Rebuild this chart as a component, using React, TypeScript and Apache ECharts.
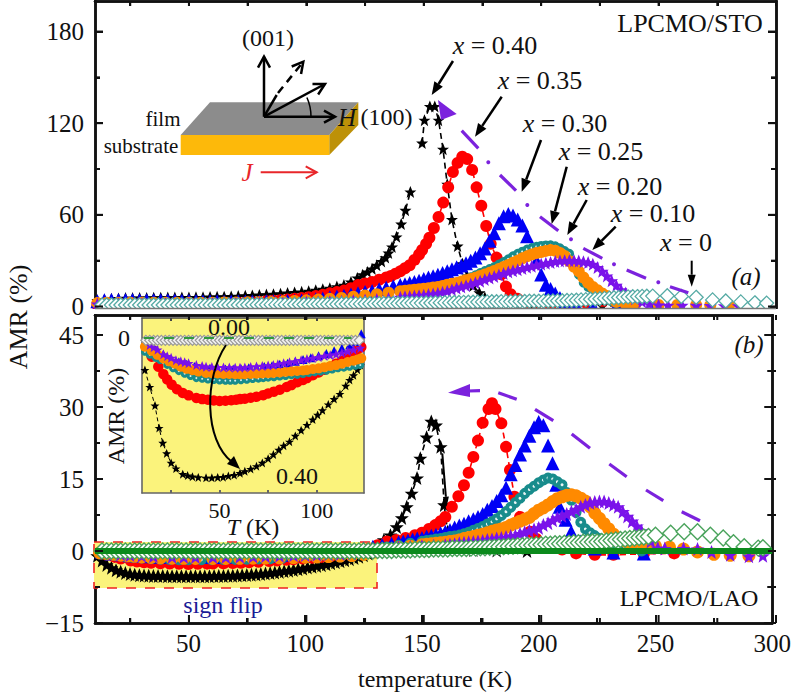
import React, { useEffect, useRef } from "react";
import * as echarts from "echarts";

type P = [number, number | null];

const xMajor = [50, 100, 150, 200, 250, 300];
const xMinor = [25, 75, 125, 175, 225, 275];
const aLabels = [0, 60, 120, 180];
const aMajor = [0, 60, 120, 180];
const aMinor = [30, 90, 150];
const bLabels = [-15, 0, 15, 30, 45];
const bMajor = [-15, 0, 15, 30, 45];
const bMinor = [-7.5, 7.5, 22.5, 37.5];
const insetLabelsX = [50, 100];
const insetTicksX = [25, 50, 75, 100];

// Panel (a) LPCMO/STO
const aX40: P[] = [[11,4],[14,4.6],[17,5],[20,5.2],[23,5.5],[26,5.5],[29,5.6],[32,5.6],[35,5.7],[38,5.7],[41,5.8],[44,5.8],[47,5.9],[50,5.9],[53,6],[56,6],[59,6.2],[62,6.3],[65,6.4],[68,6.6],[71,6.8],[74,7],[77,7.2],[80,7.5],[83,7.8],[86,8],[89,8.4],[92,8.8],[95,9.2],[98,9.6],[101,10],[104,10.6],[107,11.3],[110,12],[113,13],[116,14],[119,16],[121.7,18.7],[124,20.8],[126,22.6],[128,24.6],[130,27],[132,29.5],[133.7,32],[135,35],[136.5,39],[138.4,45.6],[140.4,54],[142.2,63],[144.3,75],[146,null],[149.3,107],[150.3,122],[152.6,131],[154.7,131],[156.3,122],[158.2,103],[160,80],[162,57],[164.4,39.6],[166.5,28],[168.5,20],[171,13.5],[173.7,9],[176,6],[179,4],[182,3],[186,2],[190,1.5],[196,1],[204,0.8],[214,0.6],[226,0.5],[240,0.4]];
const aX35: P[] = [[11,1],[14,1.2],[17,1.3],[20,1.4],[23,1.4],[26,1.5],[29,1.5],[32,1.6],[35,1.6],[38,1.7],[41,1.7],[44,1.8],[47,1.8],[50,1.8],[53,1.9],[56,1.9],[59,2],[62,2.1],[65,2.2],[68,2.3],[71,2.4],[74,2.6],[77,2.8],[80,3],[83,3.4],[86,3.8],[89,4.1],[92,4.5],[95,5],[98,5.5],[101,6],[104,6.8],[107,7.6],[110,8.6],[113,9.4],[116,10.4],[119,12],[122,14],[125,15],[128,16],[131,17.5],[134,19],[136,20],[138,21.5],[140,23],[142,25],[144,27],[146,30.5],[148,34],[149.3,37],[151,41],[152.4,45],[154.3,51.4],[156.3,58.6],[158.3,68],[160.4,78],[162.4,88],[164.4,94],[166.4,98],[168.5,96.5],[170.6,89.4],[172.5,78],[174.5,66],[176.6,52.7],[178.5,41],[181,32],[183,21],[185,13],[187,8],[190,5],[194,3],[198,2],[204,1],[210,0.6],[220,0.4],[235,0.3]];
const aX30: P[] = [[11,3.5],[14,4],[17,4.2],[20,4.2],[23,4.2],[26,4.2],[29,4.1],[32,4.1],[35,4],[38,4],[41,4],[44,3.9],[47,3.8],[50,3.7],[53,3.6],[56,3.5],[59,3.4],[62,3.4],[65,3.3],[68,3.3],[71,3.3],[74,3.3],[77,3.3],[80,3.3],[83,3.4],[86,3.4],[89,3.5],[92,3.6],[95,3.7],[98,3.9],[101,4.2],[104,4.7],[107,5.3],[110,6],[113,6.5],[116,7.1],[119,7.8],[122,8.6],[125,9.4],[128,10.2],[131,11.2],[134,12.2],[137,13.2],[140,14],[142,14.6],[144,15.3],[146,16],[148,16.9],[150,18],[152,18.9],[154,19.8],[156,20.8],[158,21.9],[160,23],[162,24.4],[164,25.6],[166,26.9],[168,28.3],[170,30],[172,32],[174,34.8],[176,38],[178,43],[180,48],[182,54.5],[184,59],[186,60.6],[188,59.5],[190,57],[192,53],[194,46],[196,37],[198,30],[200,21],[202,14.2],[204,11.5],[206,8.5],[208,5.6],[210,3],[215,1],[222,0.6],[232,0.4],[248,0.3]];
const aX25: P[] = [[11,2.4],[14,2.5],[17,2.6],[20,2.6],[25,2.6],[30,2.6],[35,2.6],[40,2.6],[45,2.6],[50,2.6],[55,2.6],[60,2.6],[65,2.7],[70,2.7],[75,2.8],[80,2.8],[85,2.9],[90,3.1],[95,3.3],[100,3.6],[105,4],[110,4.5],[115,5.1],[120,5.8],[125,6.5],[130,7.2],[135,8],[140,9],[142,9.4],[144,9.8],[146,10.2],[148,10.6],[150,11],[152,11.6],[154,12.3],[156,13],[158,13.6],[160,14.2],[162,15],[164,15.7],[166,16.6],[168,17.8],[170,19.2],[172,20.6],[174,22],[176,23.3],[178,24.6],[180,26],[182,27.6],[184,29.2],[186,31],[188,33],[190,34.6],[192,36],[194,37.4],[196,38.4],[198,39.2],[200,39.8],[202,40.1],[204,40.2],[206,39.6],[208,38.2],[210,36.4],[212,34.6],[214,27],[216,20.6],[218,15.5],[220,12.6],[222,10.4],[224,8.6],[226,6.8],[228,5],[230,3.2],[232,2],[236,1.2],[240,0.8],[250,0.4]];
const aX20: P[] = [[11,2.2],[15,2.4],[20,2.4],[25,2.4],[30,2.4],[35,2.4],[40,2.4],[45,2.4],[50,2.4],[55,2.4],[60,2.5],[65,2.6],[70,2.6],[75,2.7],[80,2.8],[85,3],[90,3.2],[95,3.6],[100,4],[105,4.5],[110,5],[115,5.6],[120,6.4],[125,7.2],[130,8],[135,9],[140,10],[142,10.3],[144,10.6],[146,11],[148,11.3],[150,11.6],[152,12],[154,12.5],[156,12.8],[158,13.4],[160,14.2],[162,14.8],[164,15.4],[166,16.3],[168,17.2],[170,18],[172,18.8],[174,20],[176,21],[178,22],[180,23.2],[182,24.5],[184,25.8],[186,27.2],[188,28.6],[190,30],[192,31.6],[194,32.8],[196,34],[198,35],[200,35.7],[202,36.4],[204,36.9],[206,36.5],[208,35],[210,33],[212,29.6],[214,26],[216,23],[218,19],[220,15.5],[222,12.8],[224,10.6],[226,8.5],[228,6.8],[230,5],[232,3],[236,1.6],[240,1],[250,1],[258,1],[266,1],[272,0.8],[280,0.6]];
const aX10: P[] = [[11,1.6],[15,1.8],[20,1.8],[25,1.8],[30,1.8],[35,1.8],[40,1.8],[45,1.8],[50,1.9],[55,1.9],[60,1.9],[65,2],[70,2],[75,2.1],[80,2.1],[85,2.2],[90,2.3],[95,2.5],[100,2.7],[105,2.9],[110,3.1],[115,3.4],[120,3.8],[125,4.2],[130,4.6],[135,5.2],[140,6],[142,6.3],[144,6.5],[146,6.8],[148,7.1],[150,7.4],[152,7.8],[154,8.2],[156,8.6],[158,9.3],[160,10],[162,11],[164,12],[166,12.8],[168,13.6],[170,14.6],[172,15.5],[174,16.5],[176,17.6],[178,18.6],[180,19.6],[182,20.6],[184,21.6],[186,22.6],[188,23.4],[190,24],[192,24.8],[194,25.6],[196,26.3],[198,27],[200,27.7],[202,28.3],[204,28.8],[206,29.4],[208,29.8],[210,30],[212,30],[214,30],[216,29.7],[218,29.2],[220,28.8],[222,27.6],[224,25.5],[226,23],[228,20],[230,16.8],[232,13.8],[234,11],[236,8.8],[238,6.6],[240,5],[243,3],[246,1.6],[250,1],[254,0.8],[260,0.7],[266,0.7],[272,0.6],[278,0.5],[284,0.4]];
const aX0: P[] = [[13,1],[15,1],[17,1],[19,1],[21,1],[23,1],[25,1],[27,1],[29,1],[31,1],[33,1],[35,1],[37,1],[39,1],[41,1],[43,1],[45,1],[47,1],[49,1],[51,1],[53,1],[55,1],[57,1],[59,1],[61,1],[63,1],[65,1],[67,1],[69,1],[71,1],[73,1],[75,1.1],[77,1.1],[79,1.1],[81,1.1],[83,1.1],[85,1.2],[87,1.2],[89,1.2],[91,1.2],[93,1.2],[95,1.3],[97,1.3],[99,1.3],[101,1.3],[103,1.4],[105,1.4],[107,1.4],[109,1.5],[111,1.5],[113,1.5],[115,1.6],[117,1.6],[119,1.6],[121,1.7],[123,1.7],[125,1.8],[127,1.8],[129,1.8],[131,1.9],[133,1.9],[135,2],[137,2],[139,2],[141,2.1],[143,2.1],[145,2.2],[147,2.2],[149,2.2],[151,2.3],[153,2.3],[155,2.4],[157,2.4],[159,2.5],[161,2.5],[163,2.6],[165,2.6],[167,2.7],[169,2.8],[171,2.8],[173,2.9],[175,3],[177,3],[179,3.1],[181,3.1],[183,3.2],[185,3.2],[187,3.2],[189,3.3],[191,3.3],[193,3.3],[195,3.4],[197,3.4],[199,3.4],[201,3.5],[203,3.6],[205,3.6],[207,3.7],[209,3.8],[211,3.9],[213,4],[215,4.1],[217,4.3],[219,4.5],[221,4.7],[223,4.9],[225,5.1],[227,5.3],[229,5.5],[231,5.7],[233,5.9],[235,6.1],[237,6.3],[239,6.4],[241,6.5],[243,6.6],[245,6.7],[247.5,6.8],[253.7,7],[259.7,6.6],[266,6],[273,4.3],[278.6,3.6],[285,3],[291,2.4],[296,2.2]];

// Panel (b) LPCMO/LAO
const bX40: P[] = [[11,-1],[13,-2],[15,-2.9],[17,-3.5],[19,-4],[21,-4.3],[23,-4.6],[25,-4.8],[27,-4.95],[29,-5.05],[31,-5.1],[33,-5.15],[35,-5.2],[37,-5.2],[39,-5.2],[41,-5.25],[43,-5.25],[45,-5.25],[47,-5.25],[49,-5.25],[51,-5.25],[53,-5.25],[55,-5.25],[57,-5.25],[59,-5.25],[61,-5.2],[63,-5.2],[65,-5.2],[67,-5.15],[69,-5.15],[71,-5.1],[73,-5.05],[75,-5],[77,-4.95],[79,-4.9],[81,-4.8],[83,-4.7],[85,-4.6],[87,-4.5],[89,-4.35],[91,-4.2],[93,-4.1],[95,-3.95],[97,-3.8],[99,-3.65],[101,-3.45],[103,-3.3],[105,-3.1],[107,-2.95],[109,-2.75],[111,-2.55],[113,-2.35],[115,-2.15],[117,-1.95],[119,-1.7],[121,-1.45],[123,-1.2],[125,-0.9],[127,-0.5],[129,-0.1],[131,0.6],[133.7,2.3],[136.5,3.3],[139.2,5],[141.4,6.9],[143.5,9.2],[145.6,12],[147.9,15.2],[149.3,19.3],[152,23.7],[154,27],[156,26.2],[158,21.7],[159.5,9.6],[161,4],[163,1.5],[166,0.5],[172,0.2],[182,0.1],[195,0]];
const bX35: P[] = [[12.4,-0.5],[15,-0.8],[18.4,-1.23],[21,-1.55],[25.3,-2],[28,-2.2],[31,-2.36],[34,-2.46],[38,-2.57],[42,-2.62],[46,-2.66],[50,-2.7],[54,-2.68],[58,-2.64],[60.5,-2.62],[65,-2.58],[69,-2.52],[72.5,-2.45],[76,-2.36],[80,-2.26],[84.6,-2.1],[88,-2],[92,-1.84],[95,-1.72],[99,-1.56],[103,-1.4],[107,-1.23],[111,-1.04],[115.5,-0.86],[119,-0.6],[123,-0.3],[127,0.4],[131,1.2],[135,2],[139,2.3],[143,2.7],[147,3.3],[150,3.8],[153,4.6],[155.7,5.4],[158,6.2],[160,7.1],[162.8,9.2],[165.6,11.4],[168,13.7],[170,16.3],[172,19.6],[174,23],[176,26.7],[178.5,29.6],[180,30.8],[181.5,29.6],[184,26.6],[186,21.7],[187.7,16.9],[189.6,11.3],[192,7.1],[196.3,4],[199,2.5],[205,1],[210,0.3],[216,-0.5],[224,-0.8],[232,-0.8],[245,-0.6],[258,-0.5]];
const bX30: P[] = [[13,-0.2],[17,-0.5],[21,-0.7],[25,-0.9],[29,-1],[33,-1.1],[37,-1.2],[41,-1.2],[45,-1.25],[49,-1.25],[53,-1.25],[57,-1.25],[61,-1.25],[65,-1.2],[69,-1.2],[73,-1.1],[77,-1.1],[81,-1],[85,-1],[89,-0.9],[93,-0.8],[97,-0.7],[101,-0.6],[105,-0.5],[109,-0.4],[113,-0.2],[117,0],[121,0.2],[125,0.5],[129,0.9],[133,1.2],[137,1.5],[140,1.8],[142,2],[144,2.2],[146,2.4],[148,2.6],[150,2.7],[152,3],[154,3.2],[156,3.4],[158,3.7],[160,4],[162,4.4],[164,4.9],[166,5.3],[168,5.7],[170,6.2],[172,6.6],[174,7.1],[176,7.7],[178,8.6],[180,9.4],[182,10.4],[184,11.6],[186,13.2],[188,16],[190,17.9],[192,20.1],[194,22],[196,24],[198,25.8],[200,26.9],[202,26.2],[204,22],[205.9,18.3],[207.5,13.8],[209,9.2],[211.5,6.5],[213.9,4],[218,2],[224,0.5],[232,-0.3],[245,-0.5]];
const bX25: P[] = [[12,-0.6],[15,-0.8],[19.3,-0.94],[23,-1.15],[26,-1.3],[30,-1.45],[34,-1.6],[38,-1.72],[42,-1.76],[46,-1.8],[50,-1.82],[55.5,-1.83],[60,-1.82],[65,-1.78],[70,-1.74],[75,-1.7],[80,-1.66],[85,-1.62],[90,-1.58],[95,-1.5],[100,-1.42],[105,-1.38],[110,-1.32],[115,-1.26],[120,-1.18],[125,-0.8],[130,0],[135,0.8],[140,1.2],[145,1.6],[150,2],[152,2.2],[154,2.3],[156,2.5],[158,2.6],[160,2.8],[162,3],[164,3.1],[166,3.3],[168,3.6],[170,3.9],[172,4.3],[174,4.7],[176,5.1],[178,5.6],[180,6.1],[182,6.7],[184,7.4],[186,8.2],[188,9.1],[190,10.1],[192,11],[194,12],[196,12.8],[198,13.5],[200,14.2],[202,14.8],[204,15.2],[206,15],[208,14.4],[210,13.8],[212,12.2],[214,10.6],[216,8],[218,6],[220,4.6],[222,3.8],[224,3.2],[226,2.6],[228,2],[230,1.5],[234,0.8],[244,0]];
const bX20: P[] = [[12,-0.37],[15,-0.5],[18,-0.7],[21,-0.87],[24,-1],[27,-1.1],[30,-1.23],[34,-1.34],[38,-1.42],[43,-1.5],[48,-1.52],[53,-1.54],[60.5,-1.55],[66,-1.54],[72,-1.52],[77.7,-1.5],[83,-1.46],[89,-1.42],[95,-1.37],[100,-1.3],[105,-1.24],[110,-1.16],[115,-1.06],[120,-0.95],[125,-0.7],[130,-0.2],[135,0.3],[140,0.7],[145,1],[150,1.3],[152,1.4],[154,1.5],[156,1.6],[158,1.7],[160,1.8],[162,2],[164,2.1],[166,2.3],[168,2.6],[170,2.8],[172,3],[174,3.3],[176,3.5],[178,3.8],[180,4.1],[182,4.4],[184,4.6],[186,4.9],[188,5.4],[190,5.8],[192,6.2],[194,6.6],[196,7],[198,7.8],[200,8.5],[202,9],[204,9.6],[206,10.3],[208,10.9],[210,11.3],[212,11.6],[214,11.7],[216,11.5],[218,11],[220,10.4],[222,9.2],[224,7.9],[226,6.8],[228,5.7],[230,4.6],[232,3.5],[234,2.7],[236,2.2],[238,1.8],[240,1.5],[245,1.2],[250,1],[256,0.8],[262,0.4],[268,-0.2],[275,-0.7],[282,-0.9],[290,-1]];
const bX10: P[] = [[14,-0.3],[18,-0.5],[21,-0.7],[25,-0.85],[30,-1],[35,-1.1],[43,-1.23],[48,-1.25],[53,-1.26],[60.5,-1.27],[66,-1.24],[72,-1.2],[77.7,-1.16],[83,-1.08],[89,-1],[95,-0.9],[100,-0.84],[105,-0.76],[110,-0.7],[115,-0.6],[120,-0.45],[125,-0.1],[130,0.2],[135,0.5],[140,0.7],[145,0.9],[150,1],[155,1.1],[160,1.2],[162,1.3],[164,1.4],[166,1.6],[168,1.7],[170,1.8],[172,1.9],[174,2],[176,2.1],[178,2.3],[180,2.4],[182,2.6],[184,2.7],[186,2.9],[188,3.1],[190,3.2],[192,3.6],[194,3.9],[196,4.2],[198,4.5],[200,4.8],[202,5.4],[204,5.8],[206,6.4],[208,6.9],[210,7.3],[212,7.7],[214,8.2],[216,8.6],[218,9.2],[220,9.6],[222,10],[224,10.2],[226,10.3],[228,10.3],[230,10],[232,9.6],[234,9.2],[236,8.2],[238,7.2],[240,6.2],[242,5.2],[244,4.2],[246,3],[248,2],[251,0.6],[254,0.5],[262,0.5],[268,0.4],[274,-0.2],[282,-0.8],[290,-1.1],[296,-1]];
const bX0: P[] = [[13,0],[15,0],[17,0],[19,0],[21,0],[23,0],[25,0],[27,0],[29,0],[31,0],[33,0],[35,0],[37,0],[39,0],[41,0],[43,0],[45,0],[47,0],[49,0],[51,0],[53,0],[55,0],[57,0],[59,0],[61,0],[63,0],[65,0],[67,0],[69,0],[71,0],[73,0],[75,0],[77,0],[79,0],[81,0],[83,0],[85,0],[87,0],[89,0],[91,0],[93,0],[95,0],[97,0],[99,0],[101,0],[103,0],[105,0],[107,0],[109,0],[111,0],[113,0],[115,0],[117,0],[119,0],[121,0],[123,0],[125,0],[127,0],[129,0],[131,0.1],[133,0.1],[135,0.1],[137,0.1],[139,0.2],[141,0.2],[143,0.2],[145,0.2],[147,0.3],[149,0.3],[151,0.3],[153,0.3],[155,0.4],[157,0.4],[159,0.4],[161,0.4],[163,0.5],[165,0.5],[167,0.5],[169,0.5],[171,0.6],[173,0.6],[175,0.7],[177,0.7],[179,0.8],[181,0.8],[183,0.9],[185,0.9],[187,1],[189,1],[191,1.1],[193,1.1],[195,1.2],[197,1.2],[199,1.3],[201,1.3],[203,1.4],[205,1.4],[207,1.5],[209,1.5],[211,1.6],[213,1.6],[215,1.7],[217,1.7],[219,1.8],[221,1.8],[223,1.9],[225,1.9],[227,2],[229,2.1],[231,2.2],[233,2.3],[235,2.4],[237,2.5],[239,2.6],[241,2.7],[243,2.8],[245,2.9],[247,3],[250,3.3],[256.5,3.7],[262.3,4],[268,4],[273.5,3.3],[279,2.7],[283.4,1.7],[288,0.9],[294,0.6],[296,0.7]];
const bZeroLine: P[] = [[10,0],[300,0]];

// Inset of panel (b)
const iX40: P[] = [[11.5,-1.37],[14,-2.1],[16.7,-2.9],[18.8,-3.86],[20.7,-4.5],[22.7,-4.95],[25,-5.36],[27.5,-5.6],[31,-5.84],[33.5,-5.9],[36,-5.95],[39,-5.98],[43,-6],[46,-6],[49,-5.98],[51.8,-5.97],[54.5,-5.92],[57.5,-5.88],[60.5,-5.8],[63,-5.72],[66,-5.62],[69,-5.5],[72,-5.36],[75,-5.18],[77.7,-5],[80.5,-4.8],[83,-4.62],[86,-4.45],[89,-4.2],[92,-3.96],[95,-3.73],[98,-3.5],[100.5,-3.3],[103,-3.1],[106,-2.85],[109,-2.62],[112,-2.4],[115,-2.05],[117,-1.8],[119,-1.6],[121,-1.36],[122.5,-1.16]];
const iX35: P[] = [[12.4,-0.5],[15,-0.8],[18.4,-1.23],[21,-1.55],[23,-1.78],[25.3,-2],[28,-2.2],[31,-2.36],[34,-2.46],[38,-2.57],[41,-2.62],[44,-2.65],[47,-2.68],[50,-2.7],[53,-2.69],[56,-2.67],[58.5,-2.65],[60.5,-2.62],[63,-2.6],[66,-2.56],[69,-2.52],[72.5,-2.45],[75,-2.38],[78,-2.3],[81,-2.22],[84.6,-2.1],[87,-2.02],[90,-1.9],[93,-1.8],[95,-1.72],[98,-1.6],[101,-1.48],[104,-1.36],[107,-1.23],[110,-1.1],[113,-0.98],[115.5,-0.86],[118,-0.7],[121,-0.5],[123,-0.39]];
const iX30: P[] = [[13,-0.2],[17,-0.5],[21,-0.7],[25,-0.9],[29,-1.02],[33,-1.12],[37,-1.22],[41,-1.27],[45,-1.3],[49,-1.32],[53,-1.33],[57,-1.33],[61,-1.31],[65,-1.28],[69,-1.25],[73,-1.22],[77,-1.19],[81,-1.13],[85,-1.08],[89,-1],[93,-0.92],[97,-0.85],[101,-0.76],[105,-0.66],[109,-0.55],[113,-0.44],[117,-0.3],[120,-0.15],[123,0.18]];
const iX25: P[] = [[11.5,-0.59],[14,-0.72],[17,-0.85],[19.3,-0.94],[23,-1.15],[26,-1.3],[29,-1.42],[32,-1.53],[35,-1.63],[38,-1.72],[41,-1.75],[44,-1.78],[47,-1.8],[50,-1.82],[53,-1.83],[55.5,-1.83],[58,-1.83],[61,-1.81],[64,-1.79],[67,-1.76],[70,-1.74],[72.5,-1.72],[75,-1.7],[78,-1.68],[81,-1.65],[84,-1.63],[87,-1.6],[90,-1.58],[93,-1.54],[96,-1.5],[99,-1.47],[102,-1.44],[105,-1.4],[108,-1.35],[111,-1.3],[114,-1.27],[117,-1.23],[120,-1.19],[122.5,-1.16]];
const iX20: P[] = [[11.5,-0.37],[15,-0.55],[18,-0.72],[21,-0.87],[24,-1],[27,-1.1],[30,-1.23],[33,-1.32],[36,-1.38],[39,-1.44],[43,-1.5],[46,-1.51],[49,-1.52],[52,-1.54],[55,-1.54],[58,-1.55],[60.5,-1.55],[63,-1.55],[66,-1.54],[69,-1.53],[72,-1.52],[75,-1.51],[77.7,-1.5],[81,-1.48],[84,-1.45],[87,-1.43],[90,-1.41],[93,-1.39],[95,-1.37],[98,-1.33],[101,-1.3],[104,-1.25],[107,-1.2],[110,-1.16],[113,-1.1],[116,-1.03],[119,-0.97],[121,-0.92],[123,-0.87]];
const iX10: P[] = [[14,-0.3],[16,-0.4],[18,-0.5],[21,-0.7],[23,-0.78],[25,-0.85],[27.5,-0.95],[30,-1],[32,-1.04],[34,-1.08],[38,-1.16],[41,-1.2],[43,-1.23],[46,-1.24],[49,-1.25],[52,-1.26],[55,-1.26],[58,-1.27],[60.5,-1.27],[63,-1.26],[66,-1.24],[69,-1.22],[72,-1.2],[75,-1.18],[77.7,-1.16],[80,-1.12],[83,-1.08],[86,-1.04],[89,-1],[92,-0.95],[95,-0.9],[98,-0.86],[101,-0.82],[104,-0.77],[107,-0.74],[110,-0.7],[113,-0.64],[116,-0.57],[119,-0.5],[122.5,-0.43]];
const iX0: P[] = [[12,-0.1],[14,-0.1],[16,-0.1],[18,-0.1],[20,-0.1],[22,-0.1],[24,-0.1],[26,-0.1],[28,-0.1],[30,-0.1],[32,-0.1],[34,-0.1],[36,-0.1],[38,-0.1],[40,-0.1],[42,-0.1],[44,-0.1],[46,-0.1],[48,-0.1],[50,-0.1],[52,-0.1],[54,-0.1],[56,-0.1],[58,-0.1],[60,-0.1],[62,-0.1],[64,-0.1],[66,-0.1],[68,-0.1],[70,-0.1],[72,-0.1],[74,-0.1],[76,-0.1],[78,-0.1],[80,-0.1],[82,-0.1],[84,-0.1],[86,-0.1],[88,-0.1],[90,-0.1],[92,-0.1],[94,-0.1],[96,-0.1],[98,-0.1],[100,-0.1],[102,-0.1],[104,-0.1],[106,-0.1],[108,-0.1],[110,-0.1],[112,-0.1],[114,-0.1],[116,-0.1],[118,-0.1],[120,-0.1],[122,-0.1]];
const iZeroDash: P[] = [[11,0],[118,0]];

const SERIF = "'Liberation Serif', 'Times New Roman', serif";
const STAR = "path://M0,-10L2.9,-3.1L9.5,-3.1L4.1,1.2L5.9,8.1L0,3.8L-5.9,8.1L-4.1,1.2L-9.5,-3.1L-2.9,-3.1Z";
const BLACK = "#000000";
const RED = "#ff0000";
const BLUE = "#0000f5";
const TEAL = "#188c8c";
const ORANGE = "#ff8a00";
const VIOLET = "#7a12ea";
const VIOLET_LINE = "#7b22dd";
const YELLOW = "#fbf37c";

function xAxis(grid: number, position: string, min: number, max: number, ticks: number[], len: number, labels: number[] | null, color = "#111", width = 2.5, fs = 25, margin = 8) {
  return {
    type: "value", gridIndex: grid, position, min, max,
    axisLine: { show: true, onZero: false, lineStyle: { color, width } },
    axisTick: { show: true, inside: true, length: len, customValues: ticks, lineStyle: { color, width: 2 } },
    axisLabel: labels ? { show: true, customValues: labels, margin, fontFamily: SERIF, fontSize: fs, color: "#111" } : { show: false },
    splitLine: { show: false },
  };
}
function yAxis(grid: number, position: string, min: number, max: number, ticks: number[], len: number, labels: number[] | null, color = "#111", width = 2.5, fs = 25, margin = 11) {
  return {
    type: "value", gridIndex: grid, position, min, max,
    axisLine: { show: true, onZero: false, lineStyle: { color, width } },
    axisTick: { show: true, inside: true, length: len, customValues: ticks, lineStyle: { color, width: 2 } },
    axisLabel: labels ? { show: true, customValues: labels, margin, fontFamily: SERIF, fontSize: fs, color: "#111", formatter: (v: number) => (v < 0 ? "\u2212" + Math.abs(v) : String(v)) } : { show: false },
    splitLine: { show: false },
  };
}

let zCounter = 2;
function series(name: string, panel: number, data: P[], opt: any) {
  const axes = [[0, 0], [2, 4], [6, 8]][panel];
  return {
    name, type: "line", xAxisIndex: axes[0], yAxisIndex: axes[1], data, z: zCounter++,
    clip: false, connectNulls: false, silent: true, ...opt,
  };
}
function marks(symbol: string, size: number, color: string, line: any = null, border: any = null) {
  return {
    symbol, symbolSize: size, showSymbol: true, showAllSymbol: true,
    itemStyle: border ? { color: border.fill, borderColor: color, borderWidth: border.width, opacity: 1 } : { color, opacity: 1 },
    lineStyle: line ? { color, width: line.width, type: line.type } : { width: 0, opacity: 0 },
  };
}

function lineEl(x1: number, y1: number, x2: number, y2: number, stroke = "#000", lineWidth = 2.5, extra: any = {}) {
  return { type: "line", z: 40, shape: { x1, y1, x2, y2 }, style: { stroke, lineWidth, ...extra } };
}
function arrowEl(x1: number, y1: number, x2: number, y2: number, lineWidth = 2.5, head = 13, half = 5, fill = "#000") {
  const a = Math.atan2(y2 - y1, x2 - x1);
  const bx = x2 - head * Math.cos(a);
  const by = y2 - head * Math.sin(a);
  const nx = -Math.sin(a) * half;
  const ny = Math.cos(a) * half;
  return [
    lineEl(x1, y1, bx, by, fill, lineWidth),
    { type: "polygon", z: 40, shape: { points: [[x2, y2], [bx + nx, by + ny], [bx - nx, by - ny]] }, style: { fill } },
  ];
}
function chevronEl(x1: number, y1: number, x2: number, y2: number, stroke = "#000", lineWidth = 2.5, head = 11, half = 6) {
  const a = Math.atan2(y2 - y1, x2 - x1);
  const bx = x2 - head * Math.cos(a);
  const by = y2 - head * Math.sin(a);
  const nx = -Math.sin(a) * half;
  const ny = Math.cos(a) * half;
  return [
    lineEl(x1, y1, x2, y2, stroke, lineWidth),
    { type: "polyline", z: 40, shape: { points: [[bx + nx, by + ny], [x2, y2], [bx - nx, by - ny]] }, style: { stroke, lineWidth, fill: "none" } },
  ];
}
function textEl(text: string, x: number, y: number, fontSize = 25, fill = "#111", extra: any = {}, rest: any = {}) {
  return {
    type: "text", z: 45, x, y, ...rest,
    style: { text, fontFamily: SERIF, fontSize, fill, align: "center", verticalAlign: "middle", ...extra },
  };
}
function xLabel(text: string, x: number, y: number, fontSize = 25) {
  return textEl(text, x, y, fontSize, "#111", {
    rich: { i: { fontStyle: "italic", fontFamily: SERIF, fontSize, fill: "#111" }, n: { fontFamily: SERIF, fontSize, fill: "#111" } },
  });
}

const aDashes = [[461.7, 130.7, 478.3, 148.3], [500, 175, 516, 190.7], [540, 216.7, 558.3, 230.7], [583.3, 248.3, 602.3, 258.3], [626.7, 270, 646, 278.3], [670, 286.7, 688.3, 292.7]];
const aDots = [[488.3, 162.3], [527.3, 205], [571, 239.3], [614, 264.3], [658.3, 282.3]];
const bDashes = [[498.3, 392.7, 516.7, 399.3], [535, 409.3, 553.3, 420.7], [571.7, 434, 590, 448.3], [609.3, 464, 626.7, 476.7], [646, 490, 663.3, 500.7], [681.7, 511.7, 700, 520.7]];

const GRID_LEFT = 95;
const GRID_W = 681;
const A_TOP = 1;
const A_H = 307;
const B_TOP = 315;
const B_H = 308;
const A_Y: [number, number] = [-1, 200];
const B_Y: [number, number] = [-15, 49.17];
const X_RANGE: [number, number] = [10, 300];

function tickMarks() {
  const out: any[] = [];
  const xp = (v: number) => GRID_LEFT + ((v - X_RANGE[0]) / (X_RANGE[1] - X_RANGE[0])) * GRID_W;
  const add = (x1: number, y1: number, x2: number, y2: number) => out.push({ type: "line", z: 35, shape: { x1, y1, x2, y2 }, style: { stroke: "#111", lineWidth: 2 } });
  const edgeX = (edge: number, dir: number, vals: number[], len: number) => vals.forEach((v) => add(xp(v), edge, xp(v), edge + dir * len));
  edgeX(A_TOP, 1, xMajor, 5); edgeX(A_TOP, 1, xMinor, 5);
  edgeX(B_TOP, 1, xMajor, 5); edgeX(B_TOP, 1, xMinor, 5);
  edgeX(B_TOP + B_H, -1, xMajor, 8); edgeX(B_TOP + B_H, -1, xMinor, 5);
  const yTicks = (top: number, h: number, r: [number, number], vals: number[], len: number) => vals.forEach((v) => {
    const y = top + h - ((v - r[0]) / (r[1] - r[0])) * h;
    add(GRID_LEFT, y, GRID_LEFT + len, y);
    add(GRID_LEFT + GRID_W, y, GRID_LEFT + GRID_W - len, y);
  });
  yTicks(A_TOP, A_H, A_Y, aMajor, 8); yTicks(A_TOP, A_H, A_Y, aMinor, 5);
  yTicks(B_TOP, B_H, B_Y, bMajor, 8); yTicks(B_TOP, B_H, B_Y, bMinor, 5);
  return out;
}

function buildGraphic() {
  const els: any[] = [];
  els.push({ type: "rect", z: 1, shape: { x: 94, y: 542, width: 283, height: 46 }, style: { fill: YELLOW, stroke: "#ee2222", lineWidth: 1.6, lineDash: [10, 9] } });
  els.push({ type: "rect", z: 30, shape: { x: 88, y: 309, width: 696, height: 5 }, style: { fill: "#ffffff" } });
  els.push({ type: "line", z: 31, shape: { x1: 95, y1: 308.5, x2: 776, y2: 308.5 }, style: { stroke: "#777", lineWidth: 1.5 } });
  els.push(...tickMarks());

  els.push({ type: "polygon", z: 38, shape: { points: [[180.7, 135], [210, 102.3], [358.3, 102.3], [329.3, 135]] }, style: { fill: "#8c8c8c" } });
  els.push({ type: "rect", z: 38, shape: { x: 180.7, y: 135, width: 148.6, height: 20 }, style: { fill: "#fdb90a" } });
  els.push({ type: "polygon", z: 38, shape: { points: [[329.3, 135], [358.3, 102.3], [358.3, 125], [329.3, 155]] }, style: { fill: "#bd9108" } });
  els.push(...chevronEl(264, 116.7, 264, 56.7));
  els.push(...chevronEl(264, 116.7, 335, 116.7));
  els.push(...chevronEl(264, 116.7, 325, 84));
  els.push(lineEl(264, 116.7, 276.7, 95));
  els.push(...chevronEl(278, 93, 303.3, 61.7, "#000", 2.5));
  els[els.length - 2].style.lineDash = [8, 6];
  els.push({ type: "arc", z: 40, shape: { cx: 264, cy: 116.7, r: 47, startAngle: -0.42, endAngle: 0, clockwise: true }, style: { stroke: "#000", lineWidth: 1.5, fill: "none" } });
  els.push(...chevronEl(260.7, 172.3, 316.7, 172.3, "#e8262a", 2));
  els.push(textEl("(001)", 268, 38, 24));
  els.push(textEl("film", 163, 119, 21));
  els.push(textEl("substrate", 141, 145.5, 21));
  els.push(textEl("H", 347, 117, 25, "#111", { fontStyle: "italic" }));
  els.push(textEl("(100)", 386.5, 117, 24));
  els.push(textEl("J", 247, 172, 25, "#e8262a", { fontStyle: "italic" }));

  for (const d of aDashes) els.push(lineEl(d[0], d[1], d[2], d[3], VIOLET_LINE, 3.2));
  for (const d of aDots) els.push({ type: "circle", z: 40, shape: { cx: d[0], cy: d[1], r: 2 }, style: { fill: VIOLET_LINE } });
  els.push({ type: "polygon", z: 40, shape: { points: [[438, 100], [456.7, 114], [441, 120]] }, style: { fill: VIOLET_LINE } });
  for (const d of bDashes) els.push(lineEl(d[0], d[1], d[2], d[3], VIOLET_LINE, 3.2));
  els.push(lineEl(468, 391, 480, 390.7, VIOLET_LINE, 3.2));
  els.push({ type: "polygon", z: 40, shape: { points: [[448, 392.7], [470, 384], [470, 397]] }, style: { fill: VIOLET_LINE } });

  els.push(...arrowEl(453, 61, 431.7, 95));
  els.push(...arrowEl(501.7, 96.7, 475, 136.7));
  els.push(...arrowEl(541, 140, 521.7, 191.7));
  els.push(...arrowEl(566.7, 166.7, 551.7, 224));
  els.push(...arrowEl(586.7, 200, 567.3, 235));
  els.push(...arrowEl(615.7, 226.7, 592.3, 250));
  els.push(...arrowEl(691.7, 260.7, 691.7, 286.7, 2, 12, 4));
  els.push(...arrowEl(442.3, 453.3, 446.7, 506.7, 2, 10, 3));
  els.push(xLabel("{i|x}{n| = 0.40}", 495, 45, 26));
  els.push(xLabel("{i|x}{n| = 0.35}", 540, 80, 26));
  els.push(xLabel("{i|x}{n| = 0.30}", 565, 123, 26));
  els.push(xLabel("{i|x}{n| = 0.25}", 601, 151, 26));
  els.push(xLabel("{i|x}{n| = 0.20}", 620, 186, 26));
  els.push(xLabel("{i|x}{n| = 0.10}", 653, 213, 26));
  els.push(xLabel("{i|x}{n| = 0}", 686, 242, 26));

  els.push(textEl("LPCMO/STO", 690, 23, 26));
  els.push(textEl("LPCMO/LAO", 689, 598, 24));
  els.push(textEl("(a)", 746, 276, 25, "#111", { fontStyle: "italic" }));
  els.push(textEl("(b)", 749, 344, 25, "#111", { fontStyle: "italic" }));
  els.push(textEl("sign flip", 223, 605, 24, "#1a1a96"));
  els.push(textEl("temperature (K)", 435, 679, 24));
  els.push(textEl("AMR (%)", 18, 317, 26, "#111", {}, { rotation: Math.PI / 2 }));

  els.push(textEl("AMR (%)", 116, 416, 24, "#111", {}, { rotation: Math.PI / 2 }));
  els.push(textEl("0.00", 229, 327, 24));
  els.push(textEl("0.40", 297, 476, 24));
  els.push(xLabel("{i|T}{n| (K)}", 253, 527, 24));
  els.push({ type: "bezierCurve", z: 40, shape: { x1: 226, y1: 345, cpx1: 204, cpy1: 378, cpx2: 204, cpy2: 440, x2: 232, y2: 462 }, style: { stroke: "#000", lineWidth: 2, fill: "none" } });
  els.push({ type: "polygon", z: 40, shape: { points: [[240, 469], [227, 464], [234, 456]] }, style: { fill: "#000" } });
  return els;
}

function buildOption() {
  zCounter = 2;
  const grid = [
    { left: GRID_LEFT, top: A_TOP, width: GRID_W, height: A_H },
    { left: GRID_LEFT, top: B_TOP, width: GRID_W, height: B_H },
    { left: 142, top: 318, width: 222, height: 175, show: true, backgroundColor: YELLOW, borderWidth: 0 },
  ];
  const iY: [number, number] = [-6.65, 0.86];
  const iX: [number, number] = [10, 124.4];
  const [x0, x1] = X_RANGE;
  const xAxes = [
    xAxis(0, "top", x0, x1, xMajor, 5, null),
    xAxis(0, "top", x0, x1, xMinor, 5, null),
    xAxis(1, "bottom", x0, x1, xMajor, 8, xMajor),
    xAxis(1, "bottom", x0, x1, xMinor, 5, null),
    xAxis(1, "top", x0, x1, xMajor, 5, null),
    xAxis(1, "top", x0, x1, xMinor, 5, null),
    xAxis(2, "bottom", iX[0], iX[1], insetTicksX, 3, insetLabelsX, "#666", 1.6, 22, 6),
    xAxis(2, "top", iX[0], iX[1], insetTicksX, 3, null, "#444", 1.6),
  ];
  const yAxes = [
    yAxis(0, "left", A_Y[0], A_Y[1], aMajor, 8, aLabels),
    yAxis(0, "left", A_Y[0], A_Y[1], aMinor, 5, null),
    yAxis(0, "right", A_Y[0], A_Y[1], aMajor, 8, null),
    yAxis(0, "right", A_Y[0], A_Y[1], aMinor, 5, null),
    yAxis(1, "left", B_Y[0], B_Y[1], bMajor, 8, bLabels),
    yAxis(1, "left", B_Y[0], B_Y[1], bMinor, 5, null),
    yAxis(1, "right", B_Y[0], B_Y[1], bMajor, 8, null),
    yAxis(1, "right", B_Y[0], B_Y[1], bMinor, 5, null),
    yAxis(2, "left", iY[0], iY[1], [0], 3, [0], "#666", 1.6, 24, 12),
    yAxis(2, "right", iY[0], iY[1], [0], 3, null, "#666", 1.6),
  ];
  const tealA = { fill: "#eaf6f6", width: 3.5 };
  const tealB = { fill: "#eaf6f6", width: 4 };
  const tealI = { fill: "#d5ecec", width: 3 };
  const openA = { fill: "#ffffff", width: 1.3 };
  const openB = { fill: "#ffffff", width: 1.4 };
  const openI = { fill: "#f2f2f2", width: 1.3 };
  const dashed = { width: 1.6, type: [6, 4] };
  const allSeries = [
    series("x = 0.40 (a)", 0, aX40, marks(STAR, 12, BLACK, dashed)),
    series("x = 0.35 (a)", 0, aX35, marks("circle", 12, RED, dashed)),
    series("x = 0.30 (a)", 0, aX30, marks("triangle", 14, BLUE)),
    series("x = 0.25 (a)", 0, aX25, marks("circle", 6, TEAL, null, tealA)),
    series("x = 0.20 (a)", 0, aX20, marks("circle", 12, ORANGE)),
    series("x = 0.10 (a)", 0, aX10, marks(STAR, 13, VIOLET)),
    series("x = 0 (a)", 0, aX0, marks("diamond", 14, "#55aaa4", null, openA)),

    series("x = 0.40 (b)", 1, bX40, marks(STAR, 14, BLACK, dashed)),
    series("x = 0.35 (b)", 1, bX35, marks("circle", 12, RED, dashed)),
    series("x = 0.30 (b)", 1, bX30, marks("triangle", 14, BLUE)),
    series("x = 0.25 (b)", 1, bX25, marks("circle", 7, TEAL, null, tealB)),
    series("x = 0.20 (b)", 1, bX20, marks("circle", 13, ORANGE)),
    series("x = 0.10 (b)", 1, bX10, marks(STAR, 14, VIOLET)),
    series("x = 0 (b)", 1, bX0, marks("diamond", 16, "#4aa35c", null, openB)),
    series("baseline (b)", 1, bZeroLine, { symbol: "none", lineStyle: { color: "#0b8a1c", width: 6 } }),

    series("x = 0.40 (inset)", 2, iX40, marks(STAR, 9, BLACK, { width: 1, type: [4, 3] })),
    series("x = 0.35 (inset)", 2, iX35, marks("circle", 10.5, RED)),
    series("x = 0.30 (inset)", 2, iX30, marks("triangle", 9, BLUE)),
    series("x = 0.25 (inset)", 2, iX25, marks("circle", 5, TEAL, null, tealI)),
    series("x = 0.20 (inset)", 2, iX20, marks("circle", 10, ORANGE)),
    series("x = 0.10 (inset)", 2, iX10, marks(STAR, 10, VIOLET)),
    series("x = 0 (inset)", 2, iX0, marks("diamond", 10, "#9a9a9a", null, openI)),
    series("x = 0 dash (inset)", 2, iZeroDash, { symbol: "none", lineStyle: { color: "#2f9a3a", width: 2, type: [10, 10] } }),
  ];
  return {
    animation: false,
    backgroundColor: "#ffffff",
    textStyle: { fontFamily: SERIF },
    grid,
    xAxis: xAxes,
    yAxis: yAxes,
    series: allSeries,
    graphic: { elements: buildGraphic() },
  };
}

export default function App() {
  const ref = useRef<HTMLDivElement>(null);
  useEffect(() => {
    const chart = echarts.init(ref.current!, undefined, { renderer: "svg" });
    chart.setOption(buildOption() as any);
    return () => chart.dispose();
  }, []);
  return <div ref={ref} style={{ position: "absolute", left: 0, top: 0, width: 794, height: 693 }} />;
}
